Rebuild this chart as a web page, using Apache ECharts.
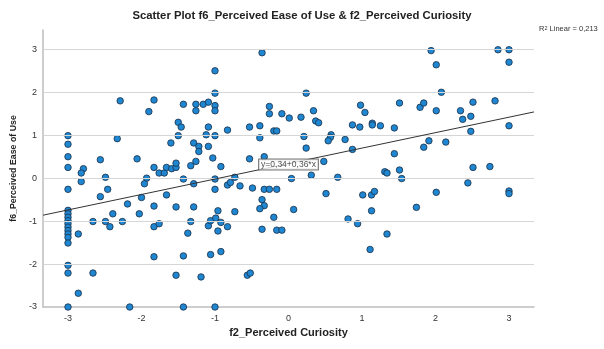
<!DOCTYPE html>
<html><head><meta charset="utf-8">
<script src="https://cdn.jsdelivr.net/npm/echarts@6/dist/echarts.min.js"></script>
<style>html,body{margin:0;padding:0;background:#fff}#c{width:604px;height:349px}</style>
</head><body><div id="c"></div>
<script>
// f2_Perceived Curiosity (x) and f6_Perceived Ease of Use (y)
const xValues = [
-1.0,-1.0,-2.29,-1.83,-1.90,-1.43,-1.26,-1.26,-1.16,-1.09,-1.0,-1.0,
-3,-3,-3,-3,-3,
-2.33,-2.56,-2.79,-2.82,-2.82,-2.49,-2.46,-2.06,-1.93,-1.96,
-1.50,-1.46,-1.50,-1.60,-1.83,-1.76,-1.69,-1.66,-1.59,-1.53,-1.53,-1.43,-1.33,-1.26,-1.29,-1.22,-1.22,-1.09,-1.12,-1.09,-1.0,-1.03,-0.92,-0.83,-1.29,-1.0,-1.0,-0.83,-0.79,-0.73,-0.66,
-2.56,-2.19,-2.0,-1.66,-1.83,-1.53,-1.29,-2.39,-2.03,
-3,-3,-3,-3,-3,-3,-3,-3,-3,-3,-3,-3,-3,
-2.86,-2.86,-2.66,-2.66,-2.49,-2.43,-2.26,-2.16,-1.83,-1.76,-1.83,-1.43,-1.53,-1.19,-1.43,-1.0,-1.37,-1.33,-1.09,-1.06,-0.99,-0.96,-0.92,-0.96,-0.83,-0.73,-1.06,-0.92,
-0.36,0.24,-0.26,-0.26,-0.09,0.01,0.17,0.34,0.37,0.41,-0.53,-0.39,-0.39,-0.20,-0.16,0.21,0.24,0.58,0.57,0.54,0.77,0.87,0.87,0.97,0.98,1.04,1.14,1.14,1.25,1.44,1.51,1.79,-0.53,-0.33,0.48,1.44,1.31,1.34,1.51,1.54,0.04,0.31,0.67,-0.49,-0.33,-0.26,-0.16,
0.51,1.01,1.13,1.17,-0.36,-0.33,-0.39,0.07,-0.20,1.13,1.74,-0.36,-0.16,-0.09,0.81,0.94,1.34,1.11,-0.56,-0.52,
1.94,2.85,3.0,2.01,3.0,2.08,1.84,2.01,2.34,2.37,2.48,2.51,2.81,2.48,3.0,1.91,1.84,2.14,2.51,2.74,2.44,3.0,3.0,2.01
];
const yValues = [
2.50,1.98,1.80,1.82,1.55,1.72,1.72,1.57,1.72,1.77,1.69,1.57,
0.99,0.79,0.50,0.25,-0.26,
0.92,0.43,0.22,0.12,-0.08,0.02,-0.26,0.45,0.0,-0.13,
1.30,1.19,0.99,0.82,0.25,0.12,0.12,0.25,0.22,0.25,0.35,-0.02,0.29,0.39,0.82,0.74,0.62,1.19,1.01,0.74,0.99,0.47,0.27,1.12,-0.13,-0.02,-0.26,-0.16,-0.10,0.02,-0.18,
-0.43,-0.60,-0.45,-0.39,-0.65,-0.67,-0.67,-0.83,-0.83,
-0.75,-0.83,-0.91,-0.99,-1.06,-1.14,-1.22,-1.30,-1.38,-1.51,-2.03,-2.21,-3.0,
-1.30,-2.68,-1.01,-2.21,-1.01,-1.13,-1.01,-3.0,-1.13,-1.06,-1.83,-1.81,-2.26,-2.30,-3.0,-3.0,-1.28,-1.01,-1.11,-0.99,-0.93,-0.76,-1.03,-1.23,-1.13,-0.78,-1.78,-1.71,
2.92,1.98,1.67,1.50,1.50,1.40,1.42,1.57,1.33,1.29,1.19,1.22,0.94,1.10,1.10,0.97,0.70,1.01,0.95,0.87,0.90,0.67,1.24,1.19,1.70,1.53,1.28,1.24,1.22,1.17,1.75,1.65,0.45,0.50,0.39,0.57,0.15,0.12,0.19,-0.01,-0.01,0.07,0.02,-0.23,-0.26,-0.26,-0.26,
-0.36,-0.39,-0.39,-0.31,-0.50,-0.64,-0.71,-0.73,-0.91,-0.76,-0.68,-1.19,-1.21,-1.21,-0.95,-1.06,-1.30,-1.66,-2.26,-2.21,
2.97,2.99,2.99,2.64,2.70,2.0,1.75,1.57,1.57,1.37,1.44,1.77,1.80,1.09,1.22,0.87,0.72,0.84,0.25,0.27,-0.11,-0.30,-0.36,-0.33
];
const xTicks = [-3,-2,-1,0,1,2,3];
const yTicks = [-3,-2,-1,0,1,2,3];
const fitIntercept = 0.34;
const fitSlope = 0.36;
const fitX = [-3.34, 3.34];
const fitLabelX = 0;
const rSquared = '0,213';

const points = xValues.map((x, i) => [x, yValues[i]]);
const fitData = fitX.map(x => [x, fitIntercept + fitSlope * x]);
const fitLabelPoint = [[fitLabelX, fitIntercept + fitSlope * fitLabelX]];

const chart = echarts.init(document.getElementById('c'), null, { renderer: 'canvas' });
const font = 'Liberation Sans, Arial, sans-serif';
chart.setOption({
  animation: false,
  backgroundColor: '#fff',
  title: [{
    text: 'Scatter Plot f6_Perceived Ease of Use & f2_Perceived Curiosity',
    left: 'center', top: 5,
    textStyle: { fontFamily: font, fontSize: 11.3, fontWeight: 'bold', color: '#222' }
  }, {
    text: '{r|R}{s|2}{r| Linear = ' + rSquared + '}',
    left: 534, top: 20,
    textStyle: { fontWeight: 'normal', rich: {
      r: { fontFamily: font, fontSize: 7.5, fontWeight: 'normal', color: '#333', verticalAlign: 'bottom' },
      s: { fontFamily: font, fontSize: 5.5, fontWeight: 'normal', color: '#333', verticalAlign: 'top' }
    } }
  }],
  grid: { left: 43, right: 70, top: 30, bottom: 42, containLabel: false },
  xAxis: {
    type: 'value', min: -3.34, max: 3.34,
    name: 'f2_Perceived Curiosity', nameLocation: 'middle', nameGap: 20,
    nameTextStyle: { fontFamily: font, fontSize: 11, fontWeight: 'bold', color: '#222' },
    axisLine: { show: true, onZero: false, lineStyle: { color: '#bdbdbd', width: 1.5 } },
    axisTick: { show: false },
    splitLine: { show: false },
    axisLabel: { customValues: xTicks, margin: 7, fontFamily: font, fontSize: 9, color: '#333' }
  },
  yAxis: {
    type: 'value', min: -3, max: 3.45,
    name: 'f6_Perceived Ease of Use', nameLocation: 'middle', nameGap: 22, nameRotate: 90,
    nameTextStyle: { fontFamily: font, fontSize: 8.8, fontWeight: 'bold', color: '#222' },
    axisLine: { show: true, onZero: false, lineStyle: { color: '#bdbdbd', width: 1.5 } },
    axisTick: { show: false },
    splitLine: { show: false },
    axisLabel: { customValues: yTicks, margin: 6, fontFamily: font, fontSize: 9, color: '#333' }
  },
  series: [{
    type: 'line', data: [], z: 1, silent: true,
    markLine: {
      silent: true, symbol: 'none', animation: false,
      label: { show: false },
      lineStyle: { color: '#d6d6d6', width: 1, type: 'solid' },
      data: yTicks.filter(v => v > -3).map(v => ({ yAxis: v }))
    }
  }, {
    type: 'scatter', data: points, z: 3,
    symbol: 'circle', symbolSize: 6.5,
    itemStyle: { color: '#1f86d1', borderColor: '#1b2f45', borderWidth: 0.8, opacity: 1 }
  }, {
    type: 'line', data: fitData, z: 5, silent: true,
    showSymbol: false,
    lineStyle: { color: '#333', width: 1 }
  }, {
    type: 'scatter', data: fitLabelPoint, z: 6, silent: true,
    symbol: 'rect', symbolSize: 1,
    itemStyle: { color: 'rgba(0,0,0,0)' },
    label: {
      show: true, position: 'inside', offset: [0, 1],
      formatter: 'y=0,34+0,36*x',
      fontFamily: font, fontSize: 8.5, color: '#222',
      backgroundColor: '#fff', borderColor: '#555', borderWidth: 1, padding: [1, 2, 0, 2]
    }
  }]
});
</script></body></html>
